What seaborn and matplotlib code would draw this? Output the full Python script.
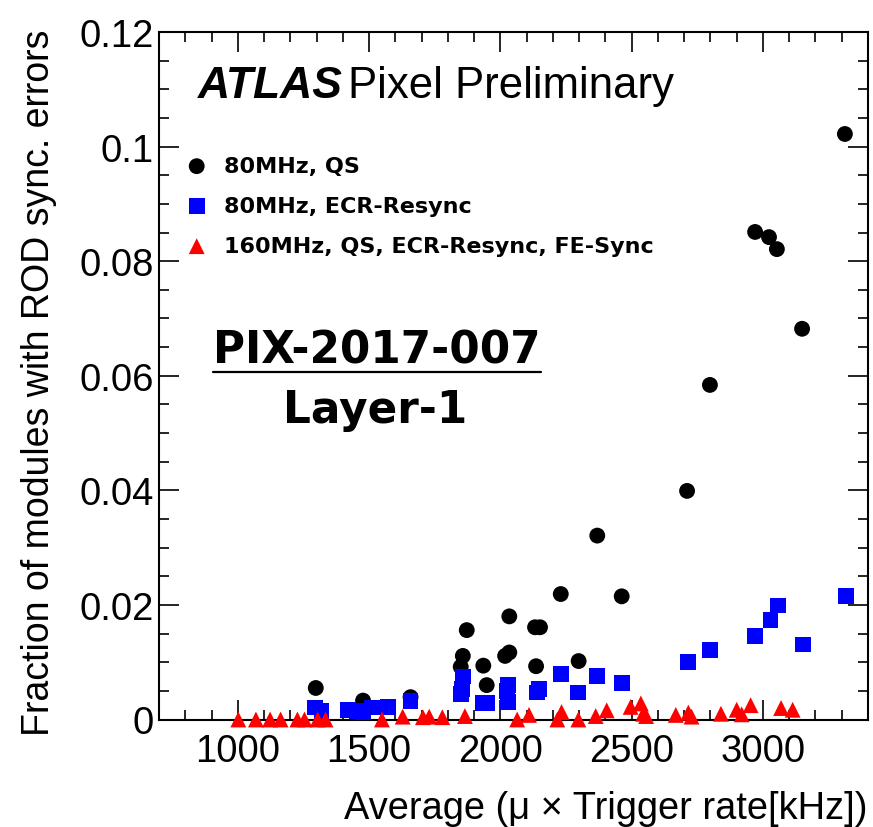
import numpy as np
import pandas as pd
import matplotlib
matplotlib.use("Agg")
import matplotlib.pyplot as plt
import seaborn as sns
from matplotlib.ticker import MultipleLocator
from matplotlib.lines import Line2D

# ---------------- data ----------------
qs_x = [1297, 1477, 1658, 1849, 1857, 1872, 1935, 1948, 2018, 2034, 2034,
        2132, 2151, 2136, 2230, 2298, 2369, 2462, 2711, 2798, 2970, 3023,
        3053, 3149, 3312]
qs_y = [0.0055, 0.0033, 0.0039, 0.0092, 0.0111, 0.0156, 0.0094, 0.0060,
        0.0111, 0.0117, 0.0180, 0.0161, 0.0161, 0.0093, 0.0219, 0.0102,
        0.0321, 0.0215, 0.0399, 0.0584, 0.0851, 0.0842, 0.0821, 0.0682,
        0.1022]

ecr_x = [1294, 1319, 1421, 1453, 1478, 1510, 1542, 1573, 1658, 1849, 1853,
         1859, 1935, 1948, 2024, 2030, 2030, 2138, 2148, 2231, 2297, 2369,
         2462, 2713, 2798, 2970, 3029, 3056, 3154, 3315]
ecr_y = [0.0021, 0.0015, 0.0017, 0.0015, 0.0013, 0.0021, 0.0021, 0.0022,
         0.0033, 0.0045, 0.0053, 0.0075, 0.0029, 0.0029, 0.0050, 0.0060,
         0.0030, 0.0047, 0.0053, 0.0079, 0.0047, 0.0076, 0.0064, 0.0101,
         0.0121, 0.0146, 0.0174, 0.0199, 0.0131, 0.0215]

fe_x = [1002, 1069, 1123, 1163, 1227, 1254, 1304, 1334, 1549, 1628, 1705,
        1729, 1779, 1865, 2064, 2109, 2217, 2233, 2297, 2363, 2405, 2496,
        2535, 2544, 2555, 2668, 2716, 2728, 2840, 2900, 2919, 2953, 3069,
        3113]
fe_y = [0.0, 0.0, 0.0, 0.0, 0.0, 0.0, 0.0, 0.0, 0.0, 0.0005, 0.0004,
        0.0005, 0.0004, 0.0006, 0.0, 0.0008, 0.0, 0.0013, 0.0, 0.0006,
        0.0016, 0.0022, 0.0028, 0.0010, 0.0006, 0.0008, 0.0012, 0.0005,
        0.0010, 0.0017, 0.0009, 0.0025, 0.0020, 0.0017]

series_labels = ["80MHz, QS", "80MHz, ECR-Resync",
                 "160MHz, QS, ECR-Resync, FE-Sync"]
series_colors = ["#000000", "#0000ff", "#ff0000"]
series_markers = ["o", "s", "^"]

x_ticks = [1000, 1500, 2000, 2500, 3000]
x_tick_labels = ["1000", "1500", "2000", "2500", "3000"]
y_ticks = [0, 0.02, 0.04, 0.06, 0.08, 0.1, 0.12]
y_tick_labels = ["0", "0.02", "0.04", "0.06", "0.08", "0.1", "0.12"]

x_title = "Average (\u03bc \u00d7 Trigger rate[kHz])"
y_title = "Fraction of modules with ROD sync. errors"

# ---------------- style ----------------
sns.set_theme(style="ticks")
plt.rcParams["font.family"] = ["Liberation Sans", "DejaVu Sans"]
plt.rcParams["axes.edgecolor"] = "black"
plt.rcParams["text.color"] = "black"
plt.rcParams["axes.labelcolor"] = "black"
plt.rcParams["xtick.color"] = "black"
plt.rcParams["ytick.color"] = "black"

W, H = 873, 828
fig = plt.figure(figsize=(W / 100, H / 100), dpi=100)
fig.patch.set_facecolor("white")

left, right, top, bottom = 159, 868, 33, 720.5
ax = fig.add_axes([left / W, 1 - bottom / H, (right - left) / W, (bottom - top) / H])
ax.set_facecolor("white")

frames = [(qs_x, qs_y), (ecr_x, ecr_y), (fe_x, fe_y)]
for (xs, ys), lab, col, mk in zip(frames, series_labels, series_colors, series_markers):
    df = pd.DataFrame({"x": xs, "y": ys})
    sns.scatterplot(data=df, x="x", y="y", ax=ax, color=col, marker=mk,
                    s=130, linewidth=0, edgecolor="none", label=lab,
                    legend=False, zorder=3, clip_on=False)

ax.set_xlim(700, 3400)
ax.set_ylim(0, 0.12)
ax.set_xticks(x_ticks, labels=x_tick_labels)
ax.set_yticks(y_ticks, labels=y_tick_labels)
ax.xaxis.set_minor_locator(MultipleLocator(100))
ax.yaxis.set_minor_locator(MultipleLocator(0.005))
ax.tick_params(which="both", direction="in", top=True, right=True,
               width=1.2, color="black")
ax.tick_params(which="major", length=14.4, labelsize=27.5)
ax.tick_params(axis="x", which="major", pad=10)
ax.tick_params(axis="y", which="major", pad=4)
ax.tick_params(which="minor", length=7.2)
for sp in ax.spines.values():
    sp.set_linewidth(1.5)
    sp.set_color("black")
    sp.set_visible(True)

ax.set_xlabel(x_title, fontsize=27.4, loc="right")
ax.xaxis.set_label_coords(1.0, -0.103)
ax.set_ylabel(y_title, fontsize=27, loc="top")
ax.yaxis.set_label_coords(-0.144, 1.005)

# legend
leg = ax.legend(loc="upper left", bbox_to_anchor=(185.6 / W, 1 - 157 / H),
                bbox_transform=fig.transFigure, frameon=False, scatterpoints=1,
                handlelength=1.0, handletextpad=0.72, labelspacing=0.9,
                borderpad=0, borderaxespad=0,
                prop={"family": "DejaVu Sans", "weight": "bold", "size": 16})

# texts
fig.text(198 / W, 1 - 98.3 / H, "ATLAS", fontsize=32, fontweight="bold",
         fontstyle="italic", va="baseline", ha="left")
fig.text(348 / W, 1 - 98.3 / H, "Pixel Preliminary", fontsize=31.5,
         va="baseline", ha="left")
pix = fig.text(376.7 / W, 1 - 364 / H, "PIX-2017-007", fontsize=31.5,
               fontweight="bold", family="DejaVu Sans", va="baseline", ha="center")
fig.text(375 / W, 1 - 423 / H, "Layer-1", fontsize=31.5, fontweight="bold",
         family="DejaVu Sans", va="baseline", ha="center")

fig.canvas.draw()
bb = pix.get_window_extent()
uy = 1 - 373 / H
fig.add_artist(Line2D([bb.x0 / W, bb.x1 / W], [uy, uy], transform=fig.transFigure,
                      color="black", lw=1.6))

fig.savefig("out.png", dpi=100, facecolor="white")
